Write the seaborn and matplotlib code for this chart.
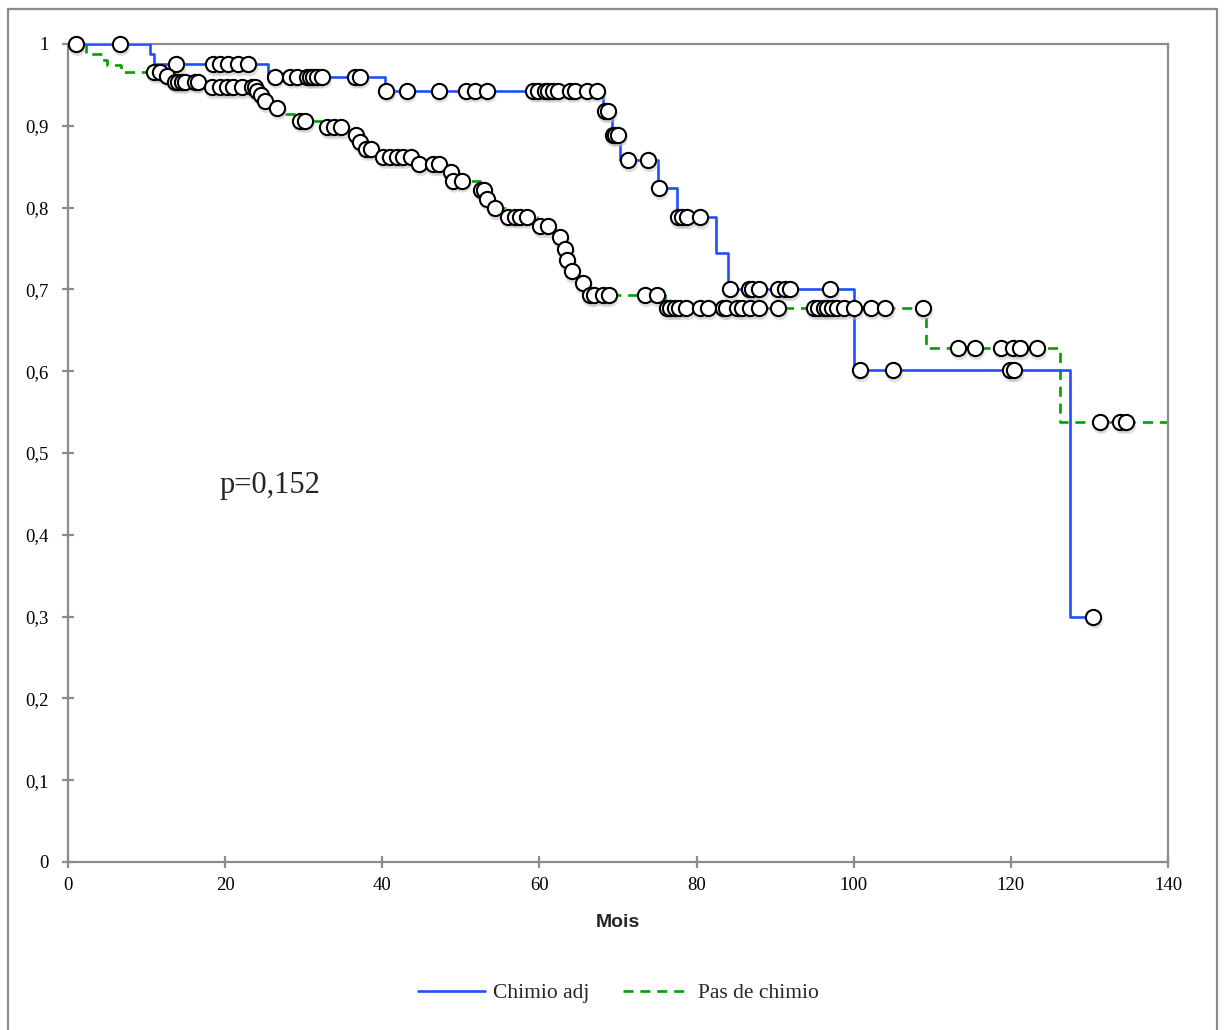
import numpy as np
import pandas as pd
import matplotlib
matplotlib.use("Agg")
import matplotlib.pyplot as plt
import matplotlib.transforms as mtransforms
import seaborn as sns
from matplotlib.patches import Rectangle
from matplotlib.ticker import FuncFormatter

# ---------------- data ----------------
series_names = ["Chimio adj", "Pas de chimio"]

# Kaplan-Meier step points (time in months, survival)
chimio_step_t = [0, 10.4, 11.0, 25.5, 40.3, 68.1, 69.2, 70.3, 75.1, 77.5, 82.5, 84.0, 100.0, 127.5, 130.5]
chimio_step_s = [1.0, 0.988, 0.975, 0.960, 0.943, 0.918, 0.889, 0.858, 0.824, 0.788, 0.745, 0.700, 0.601, 0.300, 0.300]

pas_step_t = [0, 2.3, 4.3, 4.9, 6.8, 12.4, 13.3, 17.8, 24.0, 24.4, 24.9, 26.4, 27.6, 29.0, 32.6,
              36.4, 37.0, 37.7, 39.7, 44.4, 48.6, 48.9, 52.4, 53.1, 54.0, 55.6, 59.7, 62.3, 63.1,
              63.4, 63.9, 65.2, 66.2, 76.0, 109.2, 126.3, 140.0]
pas_step_s = [1.0, 0.988, 0.981, 0.974, 0.966, 0.961, 0.954, 0.947, 0.942, 0.938, 0.930, 0.922, 0.914, 0.906, 0.898,
              0.889, 0.880, 0.872, 0.862, 0.853, 0.844, 0.833, 0.822, 0.811, 0.799, 0.789, 0.777, 0.764, 0.749,
              0.736, 0.722, 0.708, 0.693, 0.677, 0.628, 0.538, 0.538]

# censored observations (months)
chimio_cens_t = [1.0, 6.6, 13.8, 18.5, 19.3, 20.3, 21.6, 22.9, 26.3, 28.3, 29.2, 30.4, 30.8, 31.2, 31.7,
                 32.3, 36.5, 37.2, 40.5, 43.1, 47.2, 50.7, 51.8, 53.3, 59.2, 59.8, 60.7, 61.1, 61.7, 62.4,
                 63.9, 64.5, 66.1, 67.3, 68.3, 68.7, 69.3, 69.6, 70.0, 71.3, 73.8, 75.2, 77.6, 78.1, 78.8,
                 80.4, 84.2, 86.7, 87.1, 88.0, 90.3, 91.2, 91.9, 97.0, 100.8, 105.0, 119.9, 120.4, 130.5]
pas_cens_t = [10.9, 11.7, 12.6, 13.6, 14.0, 14.5, 14.9, 16.2, 16.5, 18.3, 19.3, 20.2, 21.0, 22.1, 23.4,
              23.8, 24.1, 24.6, 25.1, 26.6, 29.5, 30.2, 33.0, 33.8, 34.8, 36.7, 37.2, 37.9, 38.5, 40.1,
              41.0, 41.9, 42.6, 43.7, 44.7, 46.5, 47.2, 48.8, 49.0, 50.1, 52.6, 52.9, 53.3, 54.3, 56.0,
              56.9, 57.5, 58.4, 60.1, 61.1, 62.6, 63.3, 63.5, 64.1, 65.5, 66.4, 66.9, 68.1, 68.8, 73.4,
              74.9, 76.2, 76.6, 77.2, 77.7, 78.7, 80.4, 81.5, 83.4, 83.7, 85.1, 85.8, 86.8, 87.9, 90.4,
              94.9, 95.5, 96.2, 96.6, 97.2, 97.9, 98.7, 100.0, 102.2, 104.0, 108.8, 113.3, 115.4, 118.8,
              120.3, 121.2, 123.3, 131.3, 133.9, 134.7]

x_ticks = [0, 20, 40, 60, 80, 100, 120, 140]
y_ticks = [0, 0.1, 0.2, 0.3, 0.4, 0.5, 0.6, 0.7, 0.8, 0.9, 1.0]
p_text = "p=0,152"
x_label = "Mois"

# ---------------- style ----------------
sns.set_theme(style="white")
plt.rcParams["font.family"] = ["Liberation Serif", "DejaVu Serif"]

blue = "#1f4fff"
green = "#00a000"
grey = "#8c8c8c"

fig = plt.figure(figsize=(12.26, 10.30), dpi=100)
ax = fig.add_axes([68 / 1226, 1 - 862 / 1030, 1100 / 1226, 818 / 1030])


def surv_at(step_t, step_s, t):
    idx = np.searchsorted(np.array(step_t), np.array(t), side="right") - 1
    return np.array(step_s)[idx]


df_chimio = pd.DataFrame({"t": chimio_step_t, "s": chimio_step_s})
df_pas = pd.DataFrame({"t": pas_step_t, "s": pas_step_s})
cens_chimio = pd.DataFrame({"t": chimio_cens_t, "s": surv_at(chimio_step_t, chimio_step_s, chimio_cens_t)})
cens_pas = pd.DataFrame({"t": pas_cens_t, "s": surv_at(pas_step_t, pas_step_s, pas_cens_t)})

sns.lineplot(data=df_pas, x="t", y="s", ax=ax, estimator=None, sort=False,
             drawstyle="steps-post", color=green, linewidth=1.9,
             linestyle=(0, (3.8, 2.6)), label=series_names[1], zorder=2)
sns.lineplot(data=df_chimio, x="t", y="s", ax=ax, estimator=None, sort=False,
             drawstyle="steps-post", color=blue, linewidth=1.9,
             label=series_names[0], zorder=3)

# soft drop shadows under the censoring marks
shadow_tr = mtransforms.offset_copy(ax.transData, fig=fig, x=1.5, y=-3.5, units="dots")
for dfc in (cens_chimio, cens_pas):
    sns.scatterplot(data=dfc, x="t", y="s", ax=ax, s=150, color="#b8b8b8",
                    edgecolor="none", alpha=0.45, zorder=4, legend=False)
    coll = ax.collections[-1]
    coll.set_offset_transform(shadow_tr)
    coll.set_clip_on(False)

for dfc in (cens_chimio, cens_pas):
    sns.scatterplot(data=dfc, x="t", y="s", ax=ax, s=120, color="white",
                    edgecolor="black", linewidth=1.5, zorder=5, legend=False)
    ax.collections[-1].set_clip_on(False)

ax.set_xlim(0, 140)
ax.set_ylim(0, 1)
ax.set_xticks(x_ticks)
ax.set_yticks(y_ticks)


def yfmt(v, pos):
    if abs(v) < 1e-9:
        return "0"
    if abs(v - 1) < 1e-9:
        return "1"
    return ("%.1f" % v).replace(".", ",")


ax.yaxis.set_major_formatter(FuncFormatter(yfmt))
ax.xaxis.set_major_formatter(FuncFormatter(lambda v, p: "%d" % v))

for sp in ax.spines.values():
    sp.set_color(grey)
    sp.set_linewidth(1.6)
ax.tick_params(axis="both", direction="inout", length=8, width=1.6, color=grey,
               labelsize=13.5, labelcolor="black")
ax.tick_params(axis="y", pad=10, left=True)
ax.tick_params(axis="x", pad=7, bottom=True)

ax.set_xlabel(x_label, fontsize=14, fontweight="bold", family="Liberation Sans", labelpad=14)
ax.set_ylabel("")

ax.text(19.3, 0.46, p_text, fontsize=22, ha="left", va="center", transform=ax.transData)

if ax.get_legend():
    ax.get_legend().remove()
lines = ax.get_lines()
handles = [lines[1], lines[0]]
fig.legend(handles=handles, labels=series_names, loc="center", ncol=2,
           bbox_to_anchor=(0.5045, 1 - 993 / 1030), frameon=False, fontsize=15.5,
           handlelength=3.1, columnspacing=1.6, handletextpad=0.35)

# outer chart frame
fig.patches.append(Rectangle((8 / 1226, -0.02), (1217 - 8) / 1226, 1.02 - 9 / 1030,
                             transform=fig.transFigure, fill=False, edgecolor=grey,
                             linewidth=1.6, clip_on=False))

fig.savefig("out.png", dpi=100)
